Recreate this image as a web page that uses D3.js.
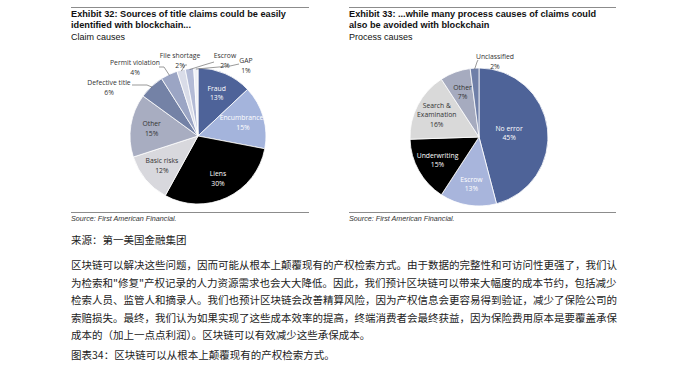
<!DOCTYPE html>
<html><head><meta charset="utf-8">
<script src="https://cdn.jsdelivr.net/npm/d3@7"></script>
<style>
html,body{margin:0;padding:0;background:#fff;}
svg{display:block;}
</style></head>
<body>
<svg id="c" width="678" height="373"></svg>
<script>
// ---- data ----
const claimCauses = ["Fraud","Encumbrances","Liens","Basic risks","Other","Defective title","Permit violation","File shortage","Escrow","GAP"];
const claimValues = [13,15,30,12,15,6,4,2,2,1];
const claimColors = ["#4e6399","#a4b4dc","#000000","#d8d8dd","#a8adc1","#7482a6","#9ba5c4","#d9dce8","#b3bbd6","#eef0f6"];

const processCauses = ["No error","Escrow","Underwriting","Search & Examination","Other","Unclassified"];
const processValues = [45,13,15,16,7,2];
const processColors = ["#4e6398","#a8b5dc","#000000","#d9d9d9","#a6abbf","#6f7fa8"];

const title32 = ["Exhibit 32: Sources of title claims could be easily","identified with blockchain..."];
const title33 = ["Exhibit 33: ...while many process causes of claims could","also be avoided with blockchain"];
const sub32 = "Claim causes", sub33 = "Process causes";
const sourceText = "Source: First American Financial.";
const cnSource = "来源：第一美国金融集团";
const cnPara = [
 "区块链可以解决这些问题，因而可能从根本上颠覆现有的产权检索方式。由于数据的完整性和可访问性更强了，我们认",
 "为检索和\"修复\"产权记录的人力资源需求也会大大降低。因此，我们预计区块链可以带来大幅度的成本节约，包括减少",
 "检索人员、监管人和摘录人。我们也预计区块链会改善精算风险，因为产权信息会更容易得到验证，减少了保险公司的",
 "索赔损失。最终，我们认为如果实现了这些成本效率的提高，终端消费者会最终获益，因为保险费用原本是要覆盖承保",
 "成本的（加上一点点利润）。区块链可以有效减少这些承保成本。"
];
const cnCaption = "图表34：区块链可以从根本上颠覆现有的产权检索方式。";

// ---- drawing ----
const svg = d3.select("#c");
const latin = "'Liberation Sans', Arial, sans-serif";
const pieFont = "'Open Sans', 'Noto Sans', sans-serif";
const cjk = "'Noto Sans CJK SC', sans-serif";

function header(x0, x1, lines, sub){
  svg.append("line").attr("x1",x0).attr("x2",x1).attr("y1",7.5).attr("y2",7.5)
     .attr("stroke","#8c8c8c").attr("stroke-width",1);
  lines.forEach((t,i)=>svg.append("text").attr("x",x0).attr("y",17+i*11.3)
     .attr("font-family",latin).attr("font-weight","bold").attr("font-size",9.2)
     .attr("fill","#111").text(t));
  svg.append("text").attr("x",x0).attr("y",39.5).attr("font-family",latin)
     .attr("font-size",9).attr("fill","#111").text(sub);
  svg.append("line").attr("x1",x0).attr("x2",x1).attr("y1",212.5).attr("y2",212.5)
     .attr("stroke","#8c8c8c").attr("stroke-width",1);
  svg.append("text").attr("x",x0).attr("y",220.5).attr("font-family","'Liberation Sans Narrow', 'Liberation Sans', sans-serif")
     .attr("font-style","italic").attr("font-size",7.2).attr("fill","#333").text(sourceText);
}
header(71, 309, title32, sub32);
header(349, 616, title33, sub33);

function drawPie(cx, cy, r, names, values, colors, darkText, outside){
  const pie = d3.pie().sort(null).value(d=>d)(values);
  const arc = d3.arc().innerRadius(0).outerRadius(r);
  const g = svg.append("g").attr("transform",`translate(${cx},${cy})`);
  g.selectAll("path").data(pie).enter().append("path")
    .attr("d",arc).attr("fill",(d,i)=>colors[i])
    .attr("stroke","#fff").attr("stroke-width",0.8);
  pie.forEach((d,i)=>{
    const pct = Math.round(values[i]) + "%";
    const mid = (d.startAngle+d.endAngle)/2;
    if(outside[names[i]]){
      const o = outside[names[i]];
      const ex = Math.sin(mid)*(r-1), ey = -Math.cos(mid)*(r-1);
      g.append("polyline").attr("points",[[o.lx,o.ly],[o.mx,o.my],[ex,ey]].map(p=>p.join(",")).join(" "))
        .attr("fill","none").attr("stroke","#555").attr("stroke-width",0.6);
      const t = g.append("text").attr("x",o.tx).attr("y",o.ty).attr("text-anchor","middle")
        .attr("font-family",pieFont).attr("font-size",6.8).attr("fill","#333");
      t.append("tspan").attr("x",o.tx).attr("dy",0).text(names[i]);
      t.append("tspan").attr("x",o.tx).attr("dy",9.5).text(pct);
    } else {
      const frac = (d.endAngle-d.startAngle)/(2*Math.PI);
      const lr = frac > 0.4 ? r*0.44 : r*0.69;
      const x = Math.sin(mid)*lr, y = -Math.cos(mid)*lr;
      const parts = names[i] === "Search & Examination" ? ["Search &","Examination"] : [names[i]];
      const lines = parts.concat([pct]);
      const fill = darkText.includes(names[i]) ? "#333" : "#fff";
      const t = g.append("text").attr("text-anchor","middle")
        .attr("font-family",pieFont).attr("font-size",6.8).attr("fill",fill);
      lines.forEach((s,k)=>t.append("tspan").attr("x",x)
        .attr("y", y + (k-(lines.length-1)/2)*9.5 + 2.3).text(s));
    }
  });
}

drawPie(198, 136, 68, claimCauses, claimValues, claimColors,
  ["Basic risks","Other"],
  {
   "Defective title": {tx:-89, ty:-51, lx:-66, ly:-51, mx:-51, my:-51},
   "Permit violation": {tx:-63, ty:-71, lx:-39, ly:-69, mx:-34, my:-69},
   "File shortage": {tx:-18, ty:-78, lx:-11, ly:-71, mx:-13, my:-71},
   "Escrow": {tx:27, ty:-78, lx:16, ly:-74, mx:6, my:-71},
   "GAP": {tx:48, ty:-73, lx:41, ly:-72, mx:32, my:-70}
  });

drawPie(479, 137, 69, processCauses, processValues, processColors,
  ["Search & Examination","Other"],
  {
   "Unclassified": {tx:16, ty:-78, lx:-1, ly:-77, mx:-2, my:-75}
  });

// Chinese text block
const cnSize = 10.5;
svg.append("text").attr("x",71).attr("y",244).attr("font-family",cjk)
  .attr("font-size",cnSize).attr("fill","#222").text(cnSource);
cnPara.forEach((s,i)=>svg.append("text").attr("x",71).attr("y",269+i*17.5)
  .attr("font-family",cjk).attr("font-size",cnSize).attr("fill","#222").text(s));
svg.append("text").attr("x",71).attr("y",359).attr("font-family",cjk)
  .attr("font-size",cnSize).attr("fill","#222").text(cnCaption);
</script>
</body></html>
